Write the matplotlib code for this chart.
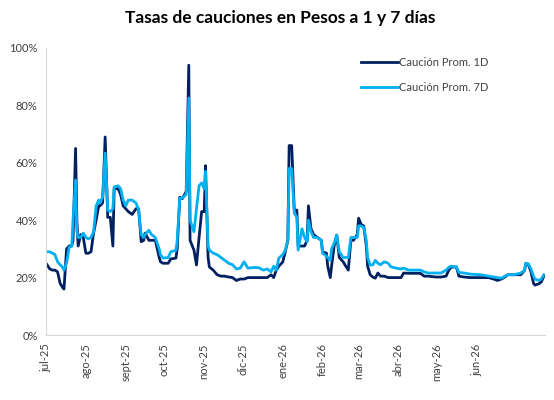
import pandas as pd
import matplotlib
matplotlib.use("Agg")
import matplotlib.pyplot as plt
import matplotlib.dates as mdates
from matplotlib.ticker import FuncFormatter

plt.rcParams['font.family'] = ['Lato', 'DejaVu Sans']

## datos (tasa en %)
fechas = ["2025-07-01", "2025-07-04", "2025-07-06", "2025-07-08", "2025-07-10", "2025-07-12",
          "2025-07-14", "2025-07-15", "2025-07-17", "2025-07-19", "2025-07-21", "2025-07-22",
          "2025-07-24", "2025-07-25", "2025-07-26", "2025-07-28", "2025-07-30", "2025-08-01",
          "2025-08-03", "2025-08-05", "2025-08-07", "2025-08-09", "2025-08-11", "2025-08-12",
          "2025-08-14", "2025-08-16", "2025-08-18", "2025-08-20", "2025-08-22", "2025-08-23",
          "2025-08-26", "2025-08-28", "2025-08-30", "2025-09-01", "2025-09-03", "2025-09-06",
          "2025-09-09", "2025-09-11", "2025-09-13", "2025-09-15", "2025-09-16", "2025-09-19",
          "2025-09-21", "2025-09-24", "2025-09-27", "2025-09-28", "2025-09-30", "2025-10-04",
          "2025-10-06", "2025-10-10", "2025-10-11", "2025-10-13", "2025-10-15", "2025-10-18",
          "2025-10-20", "2025-10-21", "2025-10-24", "2025-10-26", "2025-10-28", "2025-10-30",
          "2025-11-01", "2025-11-02", "2025-11-04", "2025-11-05", "2025-11-08", "2025-11-11",
          "2025-11-14", "2025-11-17", "2025-11-20", "2025-11-23", "2025-11-26", "2025-11-29",
          "2025-12-02", "2025-12-05", "2025-12-09", "2025-12-13", "2025-12-17", "2025-12-20",
          "2025-12-23", "2025-12-25", "2025-12-27", "2025-12-29", "2026-01-01", "2026-01-03",
          "2026-01-05", "2026-01-06", "2026-01-08", "2026-01-10", "2026-01-12", "2026-01-13",
          "2026-01-16", "2026-01-18", "2026-01-20", "2026-01-21", "2026-01-23", "2026-01-25",
          "2026-01-28", "2026-01-31", "2026-02-01", "2026-02-04", "2026-02-05", "2026-02-07",
          "2026-02-08", "2026-02-10", "2026-02-12", "2026-02-14", "2026-02-17", "2026-02-19",
          "2026-02-21", "2026-02-23", "2026-02-25", "2026-02-28", "2026-03-01", "2026-03-03",
          "2026-03-05", "2026-03-07", "2026-03-08", "2026-03-10", "2026-03-12", "2026-03-14",
          "2026-03-16", "2026-03-18", "2026-03-21", "2026-03-24", "2026-03-26", "2026-03-30",
          "2026-04-03", "2026-04-05", "2026-04-09", "2026-04-13", "2026-04-18", "2026-04-21",
          "2026-04-24", "2026-04-30", "2026-05-04", "2026-05-08", "2026-05-10", "2026-05-12",
          "2026-05-16", "2026-05-18", "2026-05-22", "2026-05-27", "2026-06-04", "2026-06-10",
          "2026-06-14", "2026-06-17", "2026-06-20", "2026-06-22", "2026-06-25", "2026-06-30",
          "2026-07-05", "2026-07-08", "2026-07-09", "2026-07-11", "2026-07-13", "2026-07-15",
          "2026-07-16", "2026-07-19", "2026-07-21", "2026-07-23"]

caucion_1d = [25, 23, 22.6, 22.6, 22, 18,
              16.5, 16, 30, 31, 31, 33,
              65, 40, 31, 35, 34, 28.5,
              28.5, 29, 35.5, 40, 45, 45,
              46, 69, 41, 41, 31, 51,
              51, 49, 45, 44, 43, 42,
              44, 44, 32.5, 33, 35.5, 33,
              33, 33, 27, 25.5, 25, 25,
              26.5, 26.8, 30, 48, 47.5, 50,
              94, 33, 29.6, 24.4, 34, 43,
              43, 59, 27, 23.7, 22.6, 21,
              20.5, 20.5, 20.2, 20, 19, 19.5,
              19.5, 20, 20, 20, 20, 20,
              21, 20, 22.6, 24, 25.4, 29,
              33, 66, 66, 43.5, 43.5, 31,
              31, 31, 33, 45, 37, 35,
              34, 33, 29, 28.5, 24, 20,
              24, 31, 34.8, 27, 25.5, 24,
              22.6, 33, 33, 35, 40.7, 38.5,
              38, 31, 24, 21, 20.2, 19.8,
              21.6, 20.5, 20.5, 20, 20, 20,
              20, 21.6, 21.5, 21.5, 21.5, 20.5,
              20.5, 20.2, 20.2, 20.5, 22.5, 23.7,
              23.7, 20.5, 20.2, 20, 20, 20,
              19.5, 19, 19.5, 20, 21, 21,
              21, 22.5, 25, 24.5, 22, 18,
              17.4, 17.8, 18.5, 20.5]

caucion_7d = [29, 29, 28.5, 28, 25.5, 24.5,
              23.5, 22.6, 25, 30.6, 31, 40,
              54, 36, 34, 34, 35.5, 34,
              33.5, 34, 36, 45, 47, 46,
              48, 63.4, 43.5, 43, 44, 51.6,
              52, 51, 47, 45, 47, 47,
              46, 43.5, 35, 34, 35, 36.5,
              35, 34, 30, 28, 26.8, 27,
              29, 29.5, 33, 47.7, 47.7, 49,
              82.6, 40, 36, 44, 52, 53,
              51, 57, 31, 29.6, 28.5, 28,
              27, 26, 25, 24.5, 23, 23.3,
              25.5, 23.3, 23.5, 23.5, 22.6, 23,
              22, 24, 22.6, 26.8, 28, 29.6,
              33, 58, 58, 42.5, 41, 29.6,
              37, 34, 32.5, 40, 36, 34,
              34, 33, 28.5, 27.5, 27, 26,
              30, 32, 34.8, 29, 27, 27,
              27, 34, 34, 34, 38, 38,
              37.5, 33, 27, 24.4, 24.4, 26,
              25, 24.5, 25.5, 25, 23.8, 23.3,
              23, 23.3, 22.6, 22.6, 22.6, 22,
              21.6, 21.6, 21.6, 22.6, 23.5, 24,
              23.7, 21.8, 21.6, 21.2, 21, 20.5,
              20.2, 20, 19.8, 20.3, 21, 21,
              21.6, 22.5, 25, 24.8, 23, 20.5,
              19.5, 19, 19.5, 21]

etiquetas = ["jul-25", "ago-25", "sept-25", "oct-25", "nov-25", "dic-25",
             "ene-26", "feb-26", "mar-26", "abr-26", "may-26", "jun-26"]

df = pd.DataFrame({'1D': caucion_1d, '7D': caucion_7d}, index=pd.to_datetime(fechas)) / 100

fig = plt.figure(figsize=(5.54, 4.0), dpi=100)
ax = fig.add_axes([0.083, 0.1625, 0.901, 0.7175])

ax.plot(df.index, df['1D'], color='#002060', linewidth=2.0, label="Caución Prom. 1D")
ax.plot(df.index, df['7D'], color='#00B0F0', linewidth=2.0, label="Caución Prom. 7D")

ax.set_ylim(0, 1.0)
ax.set_yticks([0, 0.2, 0.4, 0.6, 0.8, 1.0])
ax.yaxis.set_major_formatter(FuncFormatter(lambda v, p: "{:.0%}".format(v)))
ax.set_xlim(pd.Timestamp("2025-07-01"), pd.Timestamp("2026-07-24"))
ticks = pd.date_range("2025-07-01", periods=12, freq="MS")
ax.set_xticks(ticks)
ax.set_xticklabels(etiquetas, rotation=90)

for s in ['top', 'right']:
    ax.spines[s].set_visible(False)
for s in ['left', 'bottom']:
    ax.spines[s].set_color('#d9d9d9')
ax.tick_params(axis='both', length=0, labelsize=8, colors='#404040', pad=6)

# leyenda sin marco, arriba a la derecha
ax.legend(loc='upper left', bbox_to_anchor=(0.612, 1.005), frameon=False, fontsize=8,
          handlelength=3.3, handletextpad=0.1, labelspacing=1.3, labelcolor='#404040')

fig.suptitle("Tasas de cauciones en Pesos a 1 y 7 días", x=0.505, y=0.975,
             fontsize=12.5, fontweight='bold', color='#000000')

plt.savefig('out.png', dpi=100)
plt.close()
